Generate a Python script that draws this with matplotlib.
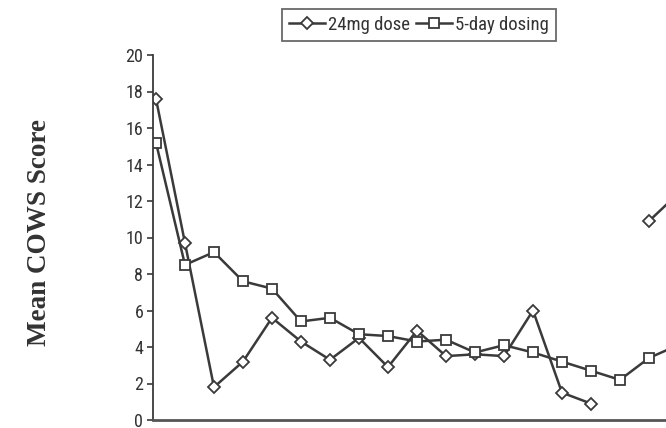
import numpy as np
import matplotlib
matplotlib.use('Agg')
import matplotlib.pyplot as plt

# mean COWS score per assessment
visits = np.arange(19)
dose_24mg = [17.6, 9.7, 1.8, 3.2, 5.6, 4.3, 3.3, 4.5, 2.9, 4.9,
             3.5, 3.6, 3.5, 6.0, 1.5, 0.9, np.nan, 10.9, 12.4]
dosing_5day = [15.2, 8.5, 9.2, 7.6, 7.2, 5.4, 5.6, 4.7, 4.6, 4.3,
               4.4, 3.7, 4.1, 3.7, 3.2, 2.7, 2.2, 3.4, 4.1]
series_labels = ['24mg dose', '5-day dosing']
y_ticks = np.arange(0, 21, 2)

narrow = ['Liberation Sans Narrow', 'DejaVu Sans Condensed', 'Roboto Condensed',
          'Roboto', 'DejaVu Sans']
ink = '#3a3a3a'

fig = plt.figure(figsize=(6.66, 4.28), dpi=100)
ax = fig.add_axes([153/666, 8/428, 1 - 153/666, 365/428])

ax.plot(visits, dose_24mg, color=ink, lw=1.8, marker='D', ms=6.2,
        mfc='white', mec=ink, mew=1.3, label=series_labels[0])
ax.plot(visits, dosing_5day, color=ink, lw=1.8, marker='s', ms=7.5,
        mfc='white', mec=ink, mew=1.3, label=series_labels[1])

ax.set_xlim(-0.103, -0.103 + 513/29)
ax.set_ylim(0, 20)
ax.set_yticks(y_ticks)
ax.set_xticks([])
for lab in ax.get_yticklabels():
    lab.set_family(narrow)
ax.tick_params(axis='y', direction='out', length=4, width=1.2, color=ink,
               labelsize=13, labelcolor='#333333', pad=3)
for side in ['top', 'right']:
    ax.spines[side].set_visible(False)
ax.spines['left'].set_color(ink)
ax.spines['left'].set_linewidth(1.3)
ax.spines['bottom'].set_color('#555555')
ax.spines['bottom'].set_linewidth(2)

fig.text(40/666, 1 - 232/428, 'Mean COWS Score', rotation=90,
         ha='center', va='center', family=['Liberation Serif', 'DejaVu Serif'],
         fontweight='bold', fontsize=19.5, color='#333333')

leg = fig.legend(loc='center', bbox_to_anchor=(419/666, 1 - 25/428), ncol=2,
                 frameon=True, fancybox=False, handlelength=1.9,
                 handletextpad=0.2, columnspacing=0.3, borderpad=0.35,
                 prop={'family': narrow, 'size': 13.5})
leg.get_frame().set_edgecolor('#444444')
leg.get_frame().set_linewidth(1.3)
for t in leg.get_texts():
    t.set_color('#333333')

plt.savefig('out.png', dpi=100)
